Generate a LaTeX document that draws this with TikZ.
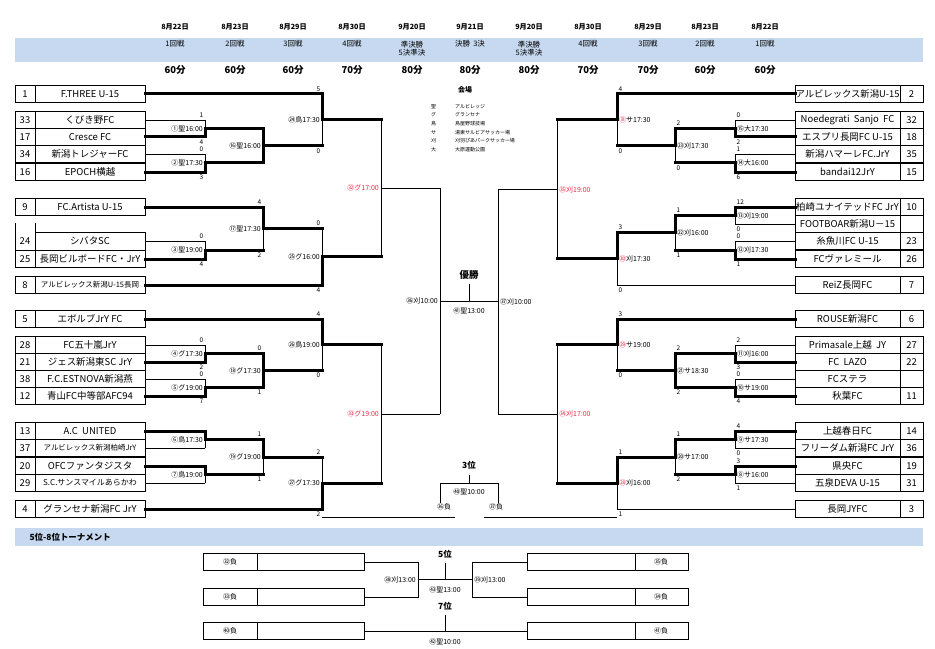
\documentclass[tikz,border=0pt]{standalone}
\usepackage{fontspec}
\setmainfont{Noto Sans CJK JP}
\usepackage{graphicx}
\definecolor{band}{RGB}{198,217,240}
\definecolor{redlbl}{RGB}{240,40,70}
\tikzset{
  h-t/.style={line width=3bp,line cap=rect}, v-t/.style={line width=3bp,line cap=rect},
  h-n/.style={line width=0.6bp}, v-n/.style={line width=0.6bp},
  h-h/.style={line width=3bp,line cap=rect}, v-h/.style={line width=0.6bp},
  box/.style={line width=0.9bp},
  team/.style={font=\fontsize{9.5}{10}\selectfont,inner sep=0pt},
  num/.style={font=\fontsize{9.5}{10}\selectfont,inner sep=0pt},
  score/.style={font=\fontsize{6.5}{6.5}\selectfont,inner sep=0.5pt},
  lbl/.style={font=\fontsize{7}{7.5}\selectfont,inner sep=0.5pt},
  date/.style={font=\bfseries\fontsize{7.2}{8}\selectfont},
  round/.style={font=\fontsize{7.5}{9}\selectfont,align=center,anchor=north,inner sep=0pt},
  mins/.style={font=\bfseries\fontsize{9.5}{10}\selectfont},
  legend/.style={font=\fontsize{5}{5.5}\selectfont,anchor=west,inner sep=0pt},
  title/.style={font=\bfseries\fontsize{8.5}{9}\selectfont}
}
\newcommand\fitname[1]{\sbox0{#1}\ifdim\wd0>104bp\resizebox{104bp}{!}{\usebox0}\else\usebox0\fi}
% one bout, left half of the draw
\newcommand\boutL[9]{%
  \pgfmathsetmacro\ym{(#4+#5)/2}%
  \draw[h-#6] (#1,#4) -- (#3,#4);
  \draw[v-#6] (#3,#4) -- (#3,\ym);
  \draw[h-#7] (#2,#5) -- (#3,#5);
  \draw[v-#7] (#3,#5) -- (#3,\ym);
  \node[score,anchor=south east] at (#3-1,#4-2) {#8};
  \node[score,anchor=north east] at (#3-1,#5+2) {#9};
}
% one bout, right half of the draw
\newcommand\boutR[9]{%
  \pgfmathsetmacro\ym{(#4+#5)/2}%
  \draw[h-#6] (#1,#4) -- (#3,#4);
  \draw[v-#6] (#3,#4) -- (#3,\ym);
  \draw[h-#7] (#2,#5) -- (#3,#5);
  \draw[v-#7] (#3,#5) -- (#3,\ym);
  \node[score,anchor=south west] at (#3+1,#4-2) {#8};
  \node[score,anchor=north west] at (#3+1,#5+2) {#9};
}
\newcommand\lblL[3][black]{\node[lbl,anchor=east,text=#1] at (#2-1.5,\ym) {#3};}
\newcommand\lblR[3][black]{\node[lbl,anchor=west,text=#1] at (#2+1.5,\ym) {#3};}
\begin{document}
\begin{tikzpicture}[x=1bp,y=-1bp]
\useasboundingbox (0,0) rectangle (935,649);
% header
\fill[band] (15,38) rectangle (923,62);
\foreach \x/\d/\r/\m [count=\i] in {175/8月22日/1回戦/60, 235/8月23日/2回戦/60,
    293/8月29日/3回戦/60, 352/8月30日/4回戦/70, 412/9月20日/{準決勝\\5決準決}/80,
    470/9月21日/決勝\ \ 3決/80, 529/9月20日/{準決勝\\5決準決}/80, 588/8月30日/4回戦/70,
    648/8月29日/3回戦/70, 705/8月23日/2回戦/60, 765/8月22日/1回戦/60}
  {\node[date] (d\i) at (\x,27) {\d};
   \node[round] (r\i) at (\x,40.5) {\r};
   \node[mins] (m\i) at (\x,70) {\m 分};}
% venues
\node[title,font=\bfseries\fontsize{7}{7}\selectfont] (venue) at (465,90) {会場};
\foreach \y/\a/\v in {107/聖/アルビレッジ, 115/グ/グランセナ, 124/鳥/鳥屋野球技場,
    133/サ/湯東サルビアサッカー場, 141/刈/刈羽ぴあパークサッカー場, 150/大/大原運動公園}
  {\node[legend] at (431,\y) {\a}; \node[legend] at (455,\y) {\v};}
% left teams
\foreach \y/\n/\t in {94/1/F.THREE U-15, 120/33/くびき野FC, 137/17/Cresce FC,
    154/34/新潟トレジャーFC, 172/16/EPOCH横越, 207/9/FC.Artista U-15,
    259/25/長岡ビルボードFC・JrY, 285/8/{\fontsize{7.5}{8}\selectfont アルビレックス新潟U-15長岡},
    319/5/エボルブJrY FC, 345/28/FC五十嵐JrY, 362/21/ジェス新潟東SC JrY,
    379/38/F.C.ESTNOVA新潟燕, 396/12/青山FC中等部AFC94, 431/13/A.C\ \ UNITED,
    448/37/{\fontsize{7.5}{8}\selectfont アルビレックス新潟柏崎JrY}, 466/20/OFCファンタジスタ,
    483/29/{\fontsize{8}{8}\selectfont S.C.サンスマイルあらかわ}, 509/4/グランセナ新潟FC JrY}
  {\draw[box] (15,\y-8.5) rectangle (35,\y+8.5);
   \draw[box] (35,\y-8.5) rectangle (145,\y+8.5);
   \node[num] at (25,\y) {\n};
   \node[team] at (90,\y) {\fitname{\t}};}
\draw[box] (15,223) -- (15,250.5) -- (35,250.5) -- (35,223);
\draw[box] (35,232.5) rectangle (145,250.5);
\node[num] at (25,241) {24};
\node[team] at (90,241) {シバタSC};
% right teams
\foreach \y/\n/\t in {94/2/アルビレックス新潟U-15, 120/32/Noedegrati\ \ Sanjo\ \ FC,
    137/18/エスプリ長岡FC U-15, 154/35/新潟ハマーレFC.JrY, 172/15/bandai12JrY,
    207/10/柏崎ユナイテッドFC JrY, 224//FOOTBOAR新潟U－15, 241/23/糸魚川FC U-15,
    259/26/FCヴァレミール, 285/7/ReiZ長岡FC, 319/6/ROUSE新潟FC, 345/27/Primasale上越\ \ JY,
    362/22/FC\ \ LAZO, 379//FCステラ, 396/11/秋葉FC, 431/14/上越春日FC,
    448/36/フリーダム新潟FC JrY, 466/19/県央FC, 483/31/五泉DEVA U-15, 509/3/長岡JYFC}
  {\draw[box] (795,\y-8.5) rectangle (900,\y+8.5);
   \draw[box] (900,\y-8.5) rectangle (923,\y+8.5);
   \node[num] at (911.5,\y) {\n};
   \node[team] at (847.5,\y) {\fitname{\t}};}
% left bracket
\boutL{145}{145}{205}{120}{137}{n}{t}{1}{4}\lblL{205}{①聖16:00}
\boutL{145}{145}{205}{154}{172}{n}{t}{0}{3}\lblL{205}{②聖17:30}
\boutL{205}{205}{263}{128.5}{163}{t}{t}{}{}\lblL{263}{⑯聖16:00}
\boutL{145}{263}{322}{94}{145.75}{t}{h}{5}{0}\lblL{322}{㉔鳥17:30}
\boutL{145}{145}{205}{241}{259}{n}{t}{0}{4}\lblL{205}{③聖19:00}
\boutL{145}{205}{263}{207}{250}{t}{h}{4}{2}\lblL{263}{⑰聖17:30}
\boutL{263}{145}{322}{228.5}{285}{h}{t}{0}{4}\lblL{322}{㉕グ16:00}
\boutL{322}{322}{381}{119.875}{256.75}{h}{h}{}{}\lblL[redlbl]{381}{㉜グ17:00}
\boutL{145}{145}{205}{345}{362}{n}{t}{0}{2}\lblL{205}{④グ17:30}
\boutL{145}{145}{205}{379}{396}{n}{t}{0}{7}\lblL{205}{⑤グ19:00}
\boutL{205}{205}{263}{353.5}{387.5}{t}{t}{0}{1}\lblL{263}{⑱グ17:30}
\boutL{145}{263}{322}{319}{370.5}{t}{h}{4}{0}\lblL{322}{㉖鳥19:00}
\boutL{145}{145}{205}{431}{448}{t}{n}{}{}\lblL{205}{⑥鳥17:30}
\boutL{145}{145}{205}{466}{483}{t}{n}{}{}\lblL{205}{⑦鳥19:00}
\boutL{205}{205}{263}{439.5}{474.5}{t}{h}{1}{1}\lblL{263}{⑲グ19:00}
\boutL{263}{145}{322}{457}{509}{h}{t}{2}{2}\lblL{322}{㉗グ17:30}
\boutL{322}{322}{381}{344.75}{483}{h}{h}{}{}\lblL[redlbl]{381}{㉝グ19:00}
\boutL{381}{381}{440}{188.3}{413.9}{n}{n}{}{}\lblL{440}{㊱刈10:00}
% right bracket
\boutR{795}{795}{735}{120}{137}{n}{t}{0}{2}\lblR{735}{⑮大17:30}
\boutR{795}{795}{735}{154}{172}{n}{t}{1}{6}\lblR{735}{⑭大16:00}
\boutR{735}{735}{675}{128.5}{163}{t}{h}{2}{0}\lblR{675}{㉓刈17:30}
\boutR{795}{675}{617}{94}{145.75}{t}{h}{4}{0}\lblR{617}{\textcolor{redlbl}{㉛}サ17:30}
\boutR{795}{795}{735}{207}{224}{t}{n}{12}{0}\lblR{735}{⑬刈19:00}
\boutR{795}{795}{735}{241}{259}{n}{t}{0}{1}\lblR{735}{⑫刈17:30}
\boutR{735}{735}{675}{215.5}{250}{t}{h}{1}{1}\lblR{675}{㉒刈16:00}
\boutR{675}{795}{617}{232.75}{285}{t}{n}{3}{0}\lblR{617}{\textcolor{redlbl}{㉚}刈17:30}
\boutR{617}{617}{557}{119.875}{258.875}{h}{h}{}{}\lblR[redlbl]{557}{㉟刈19:00}
\boutR{795}{795}{735}{345}{362}{n}{t}{2}{3}\lblR{735}{⑪刈16:00}
\boutR{795}{795}{735}{379}{396}{n}{t}{0}{4}\lblR{735}{⑩サ19:00}
\boutR{735}{735}{675}{353.5}{387.5}{t}{t}{2}{2}\lblR{675}{㉑サ18:30}
\boutR{795}{675}{617}{319}{370.5}{t}{h}{3}{0}\lblR{617}{\textcolor{redlbl}{㉙}サ19:00}
\boutR{795}{795}{735}{431}{448}{t}{n}{4}{0}\lblR{735}{⑨サ17:30}
\boutR{795}{795}{735}{466}{483}{t}{n}{3}{1}\lblR{735}{⑧サ16:00}
\boutR{735}{735}{675}{439.5}{474.5}{t}{h}{1}{2}\lblR{675}{⑳サ17:00}
\boutR{675}{795}{617}{457}{509}{t}{n}{1}{1}\lblR{617}{\textcolor{redlbl}{㉘}刈16:00}
\boutR{617}{617}{557}{344.75}{483}{h}{h}{}{}\lblR[redlbl]{557}{㉞刈17:00}
\boutR{557}{557}{498}{189.4}{413.9}{n}{n}{}{}\lblR{498}{㊲刈10:00}
% final and third place
\draw[h-n] (440,301) -- (498,301) (469,301) -- (469,284);
\node[title,font=\bfseries\fontsize{9.5}{10}\selectfont] (champ) at (469,275) {優勝};
\node[lbl] at (469,311) {㊶聖13:00};
\node[title] (third) at (469,465) {3位};
\draw[h-n] (469,475) -- (469,483) (440,503) -- (440,483) -- (498,483) -- (498,503);
\node[lbl] at (469,492) {㊵聖10:00};
\node[lbl] at (444,507) {㊱負};
\node[lbl] at (496,507) {㊲負};
\draw[h-n] (322,517) -- (455,517) (484,517) -- (617,517);
% 5th to 8th place
\fill[band] (15,528) rectangle (923,546);
\node[title,anchor=west] (sub) at (26,537) {5位-8位トーナメント};
\foreach \y/\l/\r in {562/㉜負/㉟負, 597/㉝負/㉞負, 631/㊵負/㊶負}
  {\draw[box] (203,\y-8.5) rectangle (257,\y+8.5) (257,\y-8.5) rectangle (364,\y+8.5);
   \draw[box] (527,\y-8.5) rectangle (635,\y+8.5) (635,\y-8.5) rectangle (688,\y+8.5);
   \node[lbl] at (230,\y) {\l};
   \node[lbl] at (661,\y) {\r};}
\draw[h-n] (364,562) -- (418,562) -- (418,597) -- (364,597);
\draw[h-n] (527,562) -- (472,562) -- (472,597) -- (527,597);
\draw[h-n] (418,579.5) -- (472,579.5) (445,579.5) -- (445,563);
\node[lbl,anchor=east] at (416.5,579.5) {㊳刈13:00};
\node[lbl,anchor=west] at (473.5,579.5) {㊴刈13:00};
\node[title] at (445,554) {5位};
\node[lbl] at (445,590) {㊸聖13:00};
\node[title] at (445,606) {7位};
\draw[h-n] (364,631) -- (527,631) (445,631) -- (445,615);
\node[lbl] at (445,642) {㊷聖10:00};
\end{tikzpicture}
\end{document}
